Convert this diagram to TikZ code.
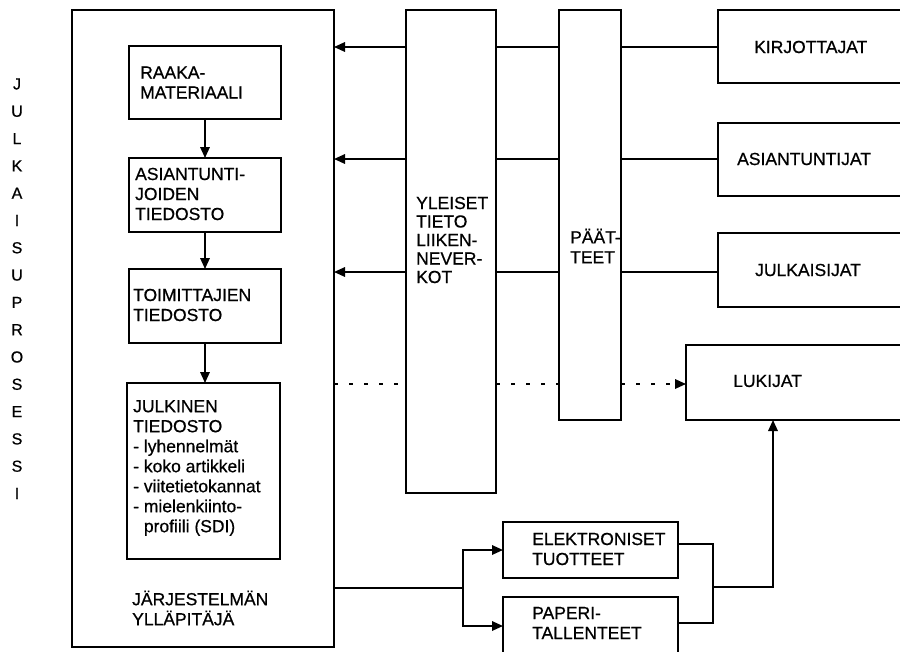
\documentclass[tikz,border=0pt]{standalone}
\usepackage{fontspec}
\setmainfont{Liberation Sans}[FakeBold=0.6]
\usetikzlibrary{arrows.meta}
\begin{document}
\begin{tikzpicture}[x=1pt,y=-1pt,
 box/.style={draw, line width=1.7pt, rectangle, inner sep=0pt, outer sep=0pt, anchor=north west},
 lbl/.style={font=\fontsize{17.5}{20}\selectfont, align=left, anchor=west, inner sep=0pt},
 wire/.style={line width=1.7pt},
 arr/.style={wire, -{Triangle[length=11pt,width=9.5pt]}},
 dots/.style={line width=1.8pt, dash pattern=on 3.5pt off 11.5pt},
]
\useasboundingbox (0,0) rectangle (900,651);
\clip (0,0) rectangle (900,651);
\fill[white] (0,0) rectangle (900,651);

% boxes
\node[box, minimum width=262pt, minimum height=637pt] (big) at (72,10) {};
\node[box, minimum width=152pt, minimum height=73pt] (raw) at (129,46) {};
\node[box, minimum width=152pt, minimum height=74pt] (exp) at (129,158) {};
\node[box, minimum width=152pt, minimum height=74pt] (edt) at (129,269) {};
\node[box, minimum width=153pt, minimum height=176pt] (pub) at (127,383) {};
\node[box, minimum width=90pt, minimum height=483pt] (yle) at (406,10) {};
\node[box, minimum width=62pt, minimum height=410pt] (paa) at (559,10) {};
\node[box, minimum width=200pt, minimum height=73pt] (kir) at (718,10) {};
\node[box, minimum width=200pt, minimum height=73pt] (asi) at (718,123) {};
\node[box, minimum width=200pt, minimum height=74pt] (jul) at (718,233) {};
\node[box, minimum width=230pt, minimum height=75pt] (luk) at (686,345) {};
\node[box, minimum width=175pt, minimum height=56pt] (ele) at (503,522) {};
\node[box, minimum width=175pt, minimum height=80pt] (pap) at (503,597) {};

% texts
\node[lbl] (rawt) at (140,82.5) {RAAKA-\\MATERIAALI};
\node[lbl] (expt) at (135,194) {ASIANTUNTI-\\JOIDEN\\TIEDOSTO};
\node[lbl] (edtt) at (133,305) {TOIMITTAJIEN\\TIEDOSTO};
\node[lbl] (pubt) at (133,468) {JULKINEN\\TIEDOSTO\\- lyhennelmät\\- koko artikkeli\\- viitetietokannat\\- mielenkiinto-\\\phantom{- }profiili (SDI)};
\node[lbl] (yllt) at (132,608) {JÄRJESTELMÄN\\YLLÄPITÄJÄ};
\node[lbl, font=\fontsize{17.5}{18.5}\selectfont] (ylet) at (416,240) {YLEISET\\TIETO\\LIIKEN-\\NEVER-\\KOT};
\node[lbl] (paat) at (570,246) {PÄÄT-\\TEET};
\node[lbl] (kirt) at (754,47) {KIRJOTTAJAT};
\node[lbl] (asit) at (737,159) {ASIANTUNTIJAT};
\node[lbl] (jult) at (755,270) {JULKAISIJAT};
\node[lbl] (lukt) at (733,381) {LUKIJAT};
\node[lbl] (elet) at (532,549) {ELEKTRONISET\\TUOTTEET};
\node[lbl] (papt) at (532,623) {PAPERI-\\TALLENTEET};

% vertical title
\foreach \ch [count=\i from 0] in {J,U,L,K,A,I,S,U,P,R,O,S,E,S,S,I}{
  \node[font=\fontsize{16}{16}\selectfont, inner sep=0pt] (v\i) at (17,{84+\i*27.3}) {\ch};
}

% row coordinates
\coordinate (r1) at (0,47);
\coordinate (r2) at (0,159);
\coordinate (r3) at (0,272);
\coordinate (r4) at (0,384);
\coordinate (split) at (463,588);
\coordinate (py) at (0,626);
\coordinate (ey) at (0,544);
\coordinate (py2) at (0,623);
\coordinate (join) at (713,587);
\coordinate (lx) at (773,0);

% internal flow
\draw[arr] (raw.south) -- (raw.south |- exp.north);
\draw[arr] (exp.south) -- (exp.south |- edt.north);
\draw[arr] (edt.south) -- (edt.south |- pub.north);

% network arrows
\foreach \r in {r1,r2,r3}{
  \draw[arr] (yle.west |- \r) -- (big.east |- \r);
  \draw[wire] (yle.east |- \r) -- (paa.west |- \r);
}
\draw[wire] (paa.east |- r1) -- (kir.west |- r1);
\draw[wire] (paa.east |- r2) -- (asi.west |- r2);
\draw[wire] (paa.east |- r3) -- (jul.west |- r3);

% dotted
\draw[dots] (big.east |- r4) -- (yle.west |- r4);
\draw[dots] (yle.east |- r4) -- (paa.west |- r4);
\draw[dots] (paa.east |- r4) -- ([xshift=-10pt]luk.west |- r4);
\draw[arr, shorten <=9pt] ([xshift=-12pt]luk.west |- r4) -- (luk.west |- r4);

% bottom
\draw[wire] (big.east |- split) -- (split);
\draw[arr] (split) |- (ele.west);
\draw[arr] (split) |- (pap.west |- py);
\draw[wire] (ele.east |- ey) -| (join);
\draw[wire] (pap.east |- py2) -| (join);
\draw[arr] (join) -| (luk.south -| lx);
\end{tikzpicture}
\end{document}
